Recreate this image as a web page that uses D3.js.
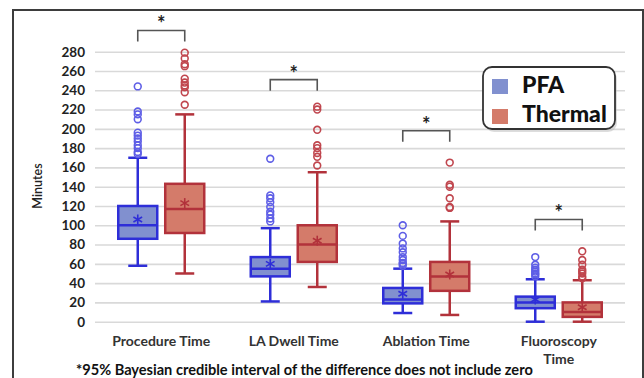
<!DOCTYPE html>
<html><head><meta charset="utf-8">
<script src="https://cdn.jsdelivr.net/npm/d3@7"></script>
<style>body{margin:0;background:#fff;}svg{display:block;font-family:Lato,"Open Sans",sans-serif;}</style>
</head><body>
<svg id="c" width="644" height="378"></svg>
<script>
const categories = ["Procedure Time", "LA Dwell Time", "Ablation Time", "Fluoroscopy Time"];
const series = ["PFA", "Thermal"];
const yTickValues = [0, 20, 40, 60, 80, 100, 120, 140, 160, 180, 200, 220, 240, 260, 280];

const pfaLow    = [58, 21, 9, 0];
const pfaQ1     = [86, 47, 19, 14];
const pfaMedian = [100, 55, 23, 20];
const pfaQ3     = [120, 67, 35, 26];
const pfaHigh   = [170, 97, 55, 44];
const pfaMean   = [106, 60, 29, 23];
const pfaOutliers = [
  [174, 176, 180, 183, 187, 190, 193, 196, 210, 215, 218, 244],
  [104, 107, 111, 114, 119, 124, 128, 131, 169],
  [58, 60, 61, 64, 67, 72, 76, 81, 89, 100],
  [47, 49, 50, 52, 54, 56, 59, 67]
];

const thermalLow    = [50, 36, 7, 0];
const thermalQ1     = [92, 62, 32, 5];
const thermalMedian = [117, 80, 47, 10];
const thermalQ3     = [143, 100, 62, 20];
const thermalHigh   = [215, 155, 104, 43];
const thermalMean   = [123, 84, 49, 15];
const thermalOutliers = [
  [225, 238, 243, 245, 248, 252, 265, 267, 273, 279],
  [162, 171, 175, 180, 183, 199, 220, 223],
  [118, 119, 128, 140, 142, 165],
  [45, 47, 50, 52, 54, 59, 64, 73]
];

// significance bracket top values (in minutes)
const sigTop = [302, 251, 198, 106];
const footnote = "*95% Bayesian credible interval of the difference does not include zero";

const svg = d3.select("#c");
const plotLeft = 95, plotRight = 625;

const y = d3.scaleLinear().domain([0, 280]).range([321.7, 51.7]);
const x = d3.scaleBand().domain(categories).range([plotLeft, plotRight]);
const xs = d3.scalePoint().domain(series).range([0, x.bandwidth()]).padding(0.91);

const colors = {
  PFA: {stroke: "#2e2ed8", fill: "#8190cf", out: "#5e5ee6"},
  Thermal: {stroke: "#b2323b", fill: "#d47b6a", out: "#c0464e"}
};

// frame
svg.append("rect").attr("x", 13).attr("y", 10).attr("width", 630).attr("height", 400)
  .attr("fill", "none").attr("stroke", "#3d3d3d").attr("stroke-width", 2);

// grid + y axis
const yAxis = d3.axisLeft(y).tickValues(yTickValues).tickSize(-(plotRight - plotLeft)).tickPadding(10);
const gy = svg.append("g").attr("transform", `translate(${plotLeft},0)`).call(yAxis);
gy.select(".domain").remove();
gy.selectAll(".tick line").attr("stroke", "#d9d9d9").attr("stroke-width", 1.6);
gy.selectAll(".tick text").attr("font-size", 13.5).attr("font-weight", "bold").attr("fill", "#222")
  .attr("font-family", "Lato, sans-serif");

svg.append("text").attr("transform", "translate(42,186) rotate(-90)")
  .attr("text-anchor", "middle").attr("font-size", 12.5).attr("font-weight", 600).attr("fill", "#222")
  .text("Minutes");

const data = [];
categories.forEach((c, i) => {
  data.push({cat: c, s: "PFA", low: pfaLow[i], q1: pfaQ1[i], med: pfaMedian[i], q3: pfaQ3[i], high: pfaHigh[i], mean: pfaMean[i], out: pfaOutliers[i]});
  data.push({cat: c, s: "Thermal", low: thermalLow[i], q1: thermalQ1[i], med: thermalMedian[i], q3: thermalQ3[i], high: thermalHigh[i], mean: thermalMean[i], out: thermalOutliers[i]});
});

const boxW = 39, capW = 19;
const g = svg.append("g");
data.forEach(d => {
  const cx = x(d.cat) + xs(d.s);
  const col = colors[d.s];
  const gg = g.append("g");
  gg.append("line").attr("x1", cx).attr("x2", cx).attr("y1", y(d.low)).attr("y2", y(d.high))
    .attr("stroke", col.stroke).attr("stroke-width", 2.5);
  [d.low, d.high].forEach(v => {
    gg.append("line").attr("x1", cx - capW / 2).attr("x2", cx + capW / 2).attr("y1", y(v)).attr("y2", y(v))
      .attr("stroke", col.stroke).attr("stroke-width", 2.5);
  });
  gg.append("rect").attr("x", cx - boxW / 2).attr("width", boxW).attr("y", y(d.q3)).attr("height", y(d.q1) - y(d.q3))
    .attr("fill", col.fill).attr("stroke", col.stroke).attr("stroke-width", 2.5);
  gg.append("line").attr("x1", cx - boxW / 2).attr("x2", cx + boxW / 2).attr("y1", y(d.med)).attr("y2", y(d.med))
    .attr("stroke", col.stroke).attr("stroke-width", 2.5);
  const my = y(d.mean), r = 5;
  const star = gg.append("g").attr("stroke", col.stroke).attr("stroke-width", 1.6);
  star.append("line").attr("x1", cx).attr("x2", cx).attr("y1", my - r).attr("y2", my + r);
  star.append("line").attr("x1", cx - r * 0.87).attr("x2", cx + r * 0.87).attr("y1", my - r * 0.5).attr("y2", my + r * 0.5);
  star.append("line").attr("x1", cx - r * 0.87).attr("x2", cx + r * 0.87).attr("y1", my + r * 0.5).attr("y2", my - r * 0.5);
  gg.selectAll("circle").data(d.out).join("circle")
    .attr("cx", cx).attr("cy", v => y(v)).attr("r", 3.4)
    .attr("fill", "none").attr("stroke", col.out).attr("stroke-width", 1.6);
});

// significance brackets
categories.forEach((c, i) => {
  const x1 = x(c) + xs("PFA"), x2 = x(c) + xs("Thermal");
  const yt = y(sigTop[i]);
  svg.append("path").attr("d", `M${x1},${yt + 11}V${yt}H${x2}V${yt + 11}`)
    .attr("fill", "none").attr("stroke", "#555").attr("stroke-width", 1.6);
  svg.append("text").attr("x", (x1 + x2) / 2).attr("y", yt + 1).attr("text-anchor", "middle")
    .attr("font-size", 20).attr("font-weight", "bold").attr("fill", "#222").text("*");
});

// category labels
const xAxis = d3.axisBottom(x).tickSize(0).tickPadding(0);
const gx = svg.append("g").attr("transform", "translate(0,336)").call(xAxis);
gx.select(".domain").remove();
gx.selectAll(".tick text").attr("font-size", 14).attr("font-weight", "bold").attr("fill", "#333")
  .attr("font-family", "Lato, sans-serif")
  .each(function(d) {
    const t = d3.select(this);
    if (d === "Fluoroscopy Time") {
      t.text(null);
      t.append("tspan").attr("x", 0).attr("dy", "0.71em").text("Fluoroscopy");
      t.append("tspan").attr("x", 0).attr("dy", "1.3em").text("Time");
    }
  });

// footnote
svg.append("text").attr("x", 76).attr("y", 375).attr("font-size", 14.6).attr("font-weight", "bold")
  .attr("fill", "#111").text(footnote);

// legend
const lg = svg.append("g").attr("transform", "translate(483,67)");
lg.append("rect").attr("x", 2).attr("y", 3).attr("width", 132).attr("height", 62).attr("rx", 9)
  .attr("fill", "#bbb").attr("opacity", 0.5);
lg.append("rect").attr("width", 132).attr("height", 62).attr("rx", 9)
  .attr("fill", "#fff").attr("stroke", "#333").attr("stroke-width", 1.8);
series.forEach((s, i) => {
  lg.append("rect").attr("x", 9).attr("y", 12 + i * 30).attr("width", 16).attr("height", 15)
    .attr("fill", colors[s].fill);
  lg.append("text").attr("x", 39).attr("y", 26 + i * 29).attr("font-size", 23).attr("font-weight", 900)
    .attr("fill", "#111").text(s);
});
</script>
</body></html>
